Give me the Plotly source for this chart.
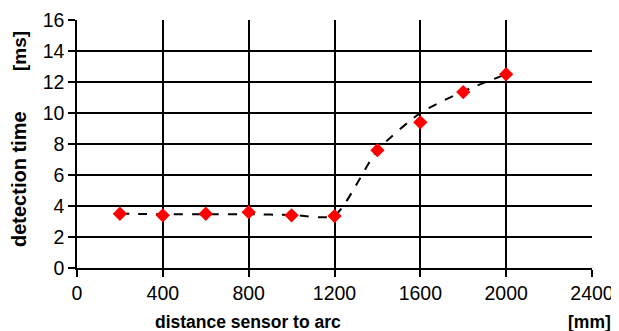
import plotly.graph_objects as go

distance_mm = [200, 400, 600, 800, 1000, 1200, 1400, 1600, 1800, 2000]
detection_ms = [3.5, 3.4, 3.5, 3.6, 3.4, 3.35, 7.6, 9.4, 11.35, 12.5]
trend_ms = [3.5, 3.47, 3.47, 3.47, 3.42, 3.38, 7.6, 10.0, 11.4, 12.5]

x_ticks = [0, 400, 800, 1200, 1600, 2000, 2400]
y_ticks = [0, 2, 4, 6, 8, 10, 12, 14, 16]

fig = go.Figure()
fig.add_trace(go.Scatter(
    x=distance_mm, y=trend_ms, mode="lines",
    line=dict(color="black", width=2, dash="dash", shape="spline", smoothing=0.6),
    hoverinfo="skip", showlegend=False))
fig.add_trace(go.Scatter(
    x=distance_mm, y=detection_ms, mode="markers",
    marker=dict(symbol="diamond", color="#ff0000", size=11, line=dict(width=0)),
    showlegend=False))

font = "Liberation Sans, Arial, sans-serif"
OFF = 8  # page body margin
W, H = 619 - OFF, 331 - OFF
L, R, T, B = 77 - OFF, 27, 20 - OFF, 63
axis_common = dict(ticks="outside", ticklen=7, tickwidth=1.5, tickcolor="black",
                   showgrid=True, gridcolor="black", gridwidth=1.5, showline=True,
                   linecolor="black", linewidth=1.5, zeroline=False,
                   tickfont=dict(size=19.5), automargin=False)
fig.update_layout(
    width=W, height=H,
    margin=dict(l=L, r=R, t=T, b=B),
    paper_bgcolor="white", plot_bgcolor="white",
    font=dict(family=font, size=19, color="black"),
    xaxis=dict(range=[0, 2400], tickvals=x_ticks, **axis_common),
    yaxis=dict(range=[0, 16], tickvals=y_ticks, **axis_common),
)
pw = W - L - R
ph = H - T - B
def px(xp):
    return (xp - OFF - L) / pw
def py(yp):
    return (H - B - (yp - OFF)) / ph

fig.update_layout(annotations=[
    dict(text="<b>detection time</b>", x=px(19), y=py(179), xref="paper", yref="paper",
         showarrow=False, textangle=-90, font=dict(size=20, family=font),
         xanchor="center", yanchor="middle"),
    dict(text="<b>[ms]</b>", x=px(19), y=py(51), xref="paper", yref="paper",
         showarrow=False, textangle=-90, font=dict(size=19, family=font),
         xanchor="center", yanchor="middle"),
    dict(text="<b>distance sensor to arc</b>", x=px(248), y=py(322), xref="paper",
         yref="paper", showarrow=False, font=dict(size=17.5, family=font),
         xanchor="center", yanchor="middle"),
    dict(text="<b>[mm]</b>", x=px(589), y=py(322), xref="paper", yref="paper",
         showarrow=False, font=dict(size=17.5, family=font),
         xanchor="center", yanchor="middle"),
])

fig.write_html("out.html")
